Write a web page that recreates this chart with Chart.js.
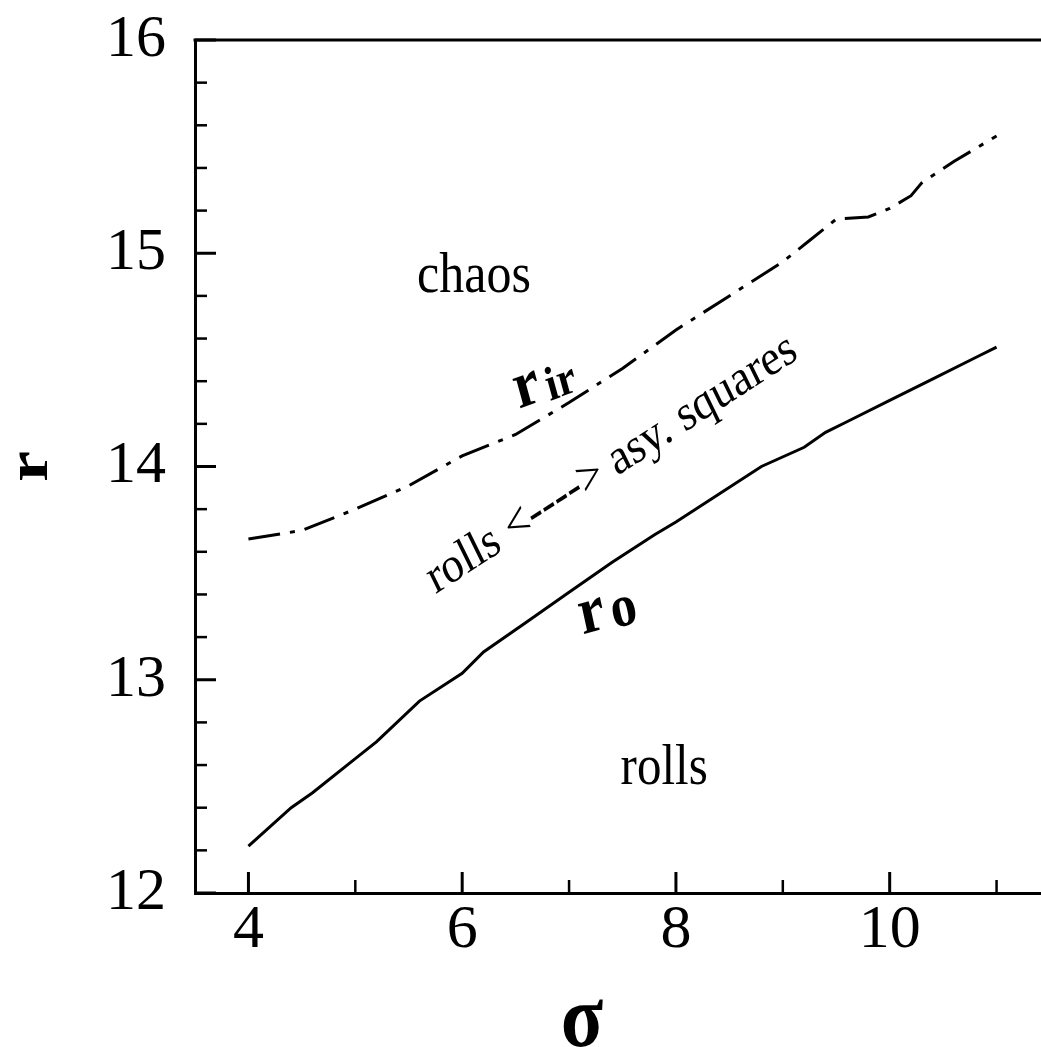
<!DOCTYPE html>
<html lang="en">
<head>
<meta charset="UTF-8">
<title>r vs sigma</title>
<script src="https://cdn.jsdelivr.net/npm/chart.js"></script>
<style>
    html, body { margin: 0; padding: 0; background: #fff; overflow: hidden; }
    #wrap { position: relative; width: 1050px; height: 1047px; }
</style>
</head>
<body>
<div id="wrap"><canvas id="grafico"></canvas></div>

<script>
    // curva r_o (linha cheia)
    const sigmaO = [4.0, 4.4, 4.6, 5.0, 5.2, 5.6, 6.0, 6.2, 6.6, 7.0, 7.4, 7.8, 8.0, 8.4, 8.8, 9.2, 9.4, 9.6, 10.0, 10.4, 10.8, 11.0];
    const rO = [12.22, 12.40, 12.47, 12.63, 12.71, 12.90, 13.03, 13.13, 13.27, 13.41, 13.55, 13.68, 13.74, 13.87, 14.00, 14.09, 14.16, 14.21, 14.31, 14.41, 14.51, 14.56];

    // curva r_ir (traco-ponto)
    const sigmaIr = [4.0, 4.5, 5.0, 5.5, 6.0, 6.5, 7.0, 7.5, 8.0, 8.5, 9.0, 9.25, 9.5, 9.8, 10.0, 10.2, 10.3, 10.6, 11.0];
    const rIr = [13.66, 13.70, 13.80, 13.91, 14.05, 14.15, 14.30, 14.46, 14.64, 14.80, 14.96, 15.06, 15.16, 15.17, 15.21, 15.27, 15.33, 15.43, 15.55];

    // ticks
    const xTicks = [4, 6, 8, 10];
    const xMinor = [5, 7, 9, 11];
    const yTicks = [12, 13, 14, 15, 16];
    const yMinor = [12.2, 12.4, 12.6, 12.8, 13.2, 13.4, 13.6, 13.8, 14.2, 14.4, 14.6, 14.8, 15.2, 15.4, 15.6, 15.8];

    const SERIF = '"Liberation Serif", "DejaVu Serif", serif';
    const SY = 1.15; // texto do original e um pouco esticado na vertical

    function pontos(xs, ys) {
        let p = [];
        for (let i = 0; i < xs.length; i++) p.push({ x: xs[i], y: ys[i] });
        return p;
    }

    function texto(ctx, s, x, y, angDeg, font, align) {
        ctx.save();
        ctx.translate(x, y);
        ctx.scale(1, SY);
        ctx.rotate(-Math.atan(Math.tan(angDeg * Math.PI / 180) / SY));
        ctx.font = font;
        ctx.textAlign = align || 'center';
        ctx.textBaseline = 'middle';
        ctx.fillText(s, 0, 0);
        ctx.restore();
    }

    // "r" grande com indice
    function comIndice(ctx, x, y, angDeg, base, indice, size, fator) {
        ctx.save();
        ctx.translate(x, y);
        ctx.scale(1, SY);
        ctx.rotate(-Math.atan(Math.tan(angDeg * Math.PI / 180) / SY));
        ctx.textBaseline = 'alphabetic';
        ctx.textAlign = 'left';
        const fBig = 'bold ' + size + 'px ' + SERIF;
        const fSmall = 'bold ' + Math.round(size * fator) + 'px ' + SERIF;
        ctx.font = fBig;
        const w1 = ctx.measureText(base).width;
        ctx.font = fSmall;
        const w2 = ctx.measureText(indice).width;
        const gap = size * 0.1;
        const x0 = -(w1 + gap + w2) / 2;
        const yb = size * 0.23;
        ctx.font = fBig;
        ctx.fillText(base, x0, yb);
        ctx.font = fSmall;
        ctx.fillText(indice, x0 + w1 + gap, yb + size * 0.05);
        ctx.restore();
    }

    const decoracao = {
        id: 'decoracao',
        afterDraw(chart) {
            const ctx = chart.ctx;
            const xs = chart.scales.x;
            const ys = chart.scales.y;
            const area = chart.chartArea;

            ctx.save();
            ctx.strokeStyle = '#000';
            ctx.lineCap = 'butt';

            // borda de cima
            ctx.lineWidth = 3;
            ctx.beginPath();
            ctx.moveTo(area.left - 1.5, area.top);
            ctx.lineTo(area.right, area.top);
            ctx.stroke();

            // ticks para dentro
            function tickY(v, len, lw) {
                const py = ys.getPixelForValue(v);
                ctx.lineWidth = lw;
                ctx.beginPath();
                ctx.moveTo(area.left, py);
                ctx.lineTo(area.left + len, py);
                ctx.stroke();
            }
            function tickX(v, len, lw) {
                const px = xs.getPixelForValue(v);
                ctx.lineWidth = lw;
                ctx.beginPath();
                ctx.moveTo(px, area.bottom);
                ctx.lineTo(px, area.bottom - len);
                ctx.stroke();
            }
            yTicks.forEach(v => tickY(v, 21, 3));
            yMinor.forEach(v => tickY(v, 12, 2.5));
            xTicks.forEach(v => tickX(v, 21, 3));
            xMinor.forEach(v => tickX(v, 13, 2.5));

            ctx.fillStyle = '#000';

            // titulos dos eixos
            texto(ctx, 'r', 31, ys.getPixelForValue(14), 90, 'bold 60px ' + SERIF);
            texto(ctx, 'σ', xs.getPixelForValue(7.12), 1023, 0, 'bold 78px ' + SERIF);

            // anotacoes
            texto(ctx, 'chaos', xs.getPixelForValue(6.11), ys.getPixelForValue(14.89), 0, '50px ' + SERIF);
            texto(ctx, 'rolls', xs.getPixelForValue(7.89), ys.getPixelForValue(12.58), 0, '49px ' + SERIF);
            texto(ctx, 'rolls <----> asy. squares', xs.getPixelForValue(7.4), ys.getPixelForValue(14.01), 33, '44px ' + SERIF);
            comIndice(ctx, xs.getPixelForValue(6.77), ys.getPixelForValue(14.39), 20, 'r', 'ir', 58, 0.72);
            comIndice(ctx, xs.getPixelForValue(7.36), ys.getPixelForValue(13.32), 16, 'r', 'o', 58, 0.9);

            ctx.restore();
        }
    };

    new Chart(document.getElementById('grafico'), {
        type: 'line',
        data: {
            datasets: [
                {
                    label: 'r_ir',
                    data: pontos(sigmaIr, rIr),
                    borderColor: '#000',
                    borderWidth: 3,
                    borderDash: [32, 10, 5, 10],
                    pointRadius: 0,
                    tension: 0
                },
                {
                    label: 'r_o',
                    data: pontos(sigmaO, rO),
                    borderColor: '#000',
                    borderWidth: 3,
                    pointRadius: 0,
                    tension: 0
                }
            ]
        },
        options: {
            responsive: true,
            maintainAspectRatio: false,
            animation: false,
            layout: { padding: { top: 40, right: 0, left: 0, bottom: 0 } },
            plugins: {
                legend: { display: false },
                tooltip: { enabled: false }
            },
            scales: {
                x: {
                    type: 'linear',
                    min: 3.5,
                    max: 11.5,
                    grid: { display: false, drawTicks: false },
                    border: { display: true, color: '#000', width: 3 },
                    afterBuildTicks: (s) => { s.ticks = xTicks.map(v => ({ value: v })); },
                    afterFit: (s) => { s.height = 154; s.paddingLeft = 0; s.paddingRight = 0; },
                    ticks: {
                        color: '#000',
                        padding: 1,
                        autoSkip: false,
                        maxRotation: 0,
                        font: { family: SERIF, size: 62 }
                    }
                },
                y: {
                    type: 'linear',
                    min: 12,
                    max: 16,
                    grid: { display: false, drawTicks: false },
                    border: { display: true, color: '#000', width: 3 },
                    afterBuildTicks: (s) => { s.ticks = yTicks.map(v => ({ value: v })); },
                    afterFit: (s) => { s.width = 195; s.paddingTop = 0; s.paddingBottom = 0; },
                    ticks: {
                        color: '#000',
                        padding: 29,
                        autoSkip: false,
                        font: { family: SERIF, size: 60 }
                    }
                }
            }
        },
        plugins: [decoracao]
    });
</script>
</body>
</html>
